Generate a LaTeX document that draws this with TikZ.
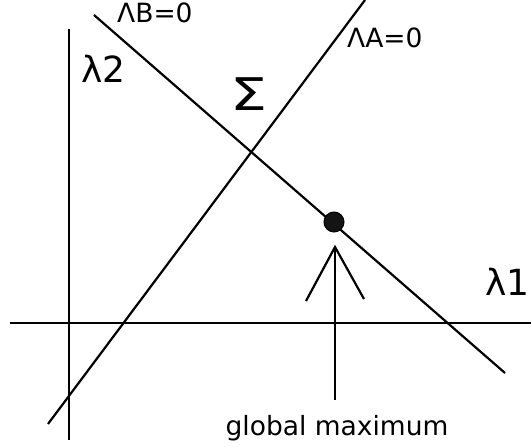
\documentclass[tikz,border=0pt]{standalone}
\usepackage{fontspec}
\setmainfont{DejaVu Sans}
\definecolor{linecol}{RGB}{0,0,0}
\definecolor{dotcol}{RGB}{20,20,20}

\tikzset{
  curve/.style={linecol, line width=2.2pt},
  smalllbl/.style={font=\fontsize{26.5}{30}\selectfont, inner sep=0pt, anchor=base west},
  biglbl/.style={font=\fontsize{36}{42}\selectfont, inner sep=0pt, anchor=base west},
}

\begin{document}
\begin{tikzpicture}[x=1pt, y=-1pt]

	% --- Frame ---
	\useasboundingbox (0,0) rectangle (531,447);

	% =============================================
	%  AXES
	% =============================================
	\coordinate (ytop) at (69,29);
	\coordinate (ybot) at (69,440);
	\coordinate (xleft) at (10,323);
	\coordinate (xright) at (531,323);
	\draw[curve] (ytop) -- (ybot);
	\draw[curve] (xleft) -- (xright);

	\node[biglbl] (lamtwo) at (81,82) {λ2};
	\node[biglbl] (lamone) at (485,295) {λ1};

	% =============================================
	%  CONSTRAINT LINES
	% =============================================
	\coordinate (Btop) at (94,15);
	\coordinate (Bbot) at (505,373);
	\coordinate (Atop) at (365,0);
	\coordinate (Abot) at (48,424);
	\draw[curve] (Btop) -- (Bbot);
	\draw[curve] (Atop) -- (Abot);

	\node[smalllbl] (labB) at (117,23) {ΛB=0};
	\node[smalllbl] (labA) at (347,48) {ΛA=0};

	% Sigma
	\node[font=\fontsize{45}{50}\selectfont, inner sep=0pt, anchor=base west, xscale=1.3] (sigma) at (230,110) {Σ};

	% =============================================
	%  MAXIMUM
	% =============================================
	\node[circle, fill=dotcol, draw=linecol, line width=1pt, minimum size=20pt, inner sep=0pt] (maxpt) at (334,222) {};

	\node[smalllbl, anchor=base] (gmax) at (337,435) {global maximum};

	% pointer with open head
	\coordinate (tip) at (335,247);
	\coordinate (legL) at (306,301);
	\coordinate (legR) at (364,299);
	\coordinate (tail) at (335,400);
	\draw[curve] (tail) -- (tip);
	\draw[curve] (legL) -- (tip) -- (legR);

\end{tikzpicture}
\end{document}
